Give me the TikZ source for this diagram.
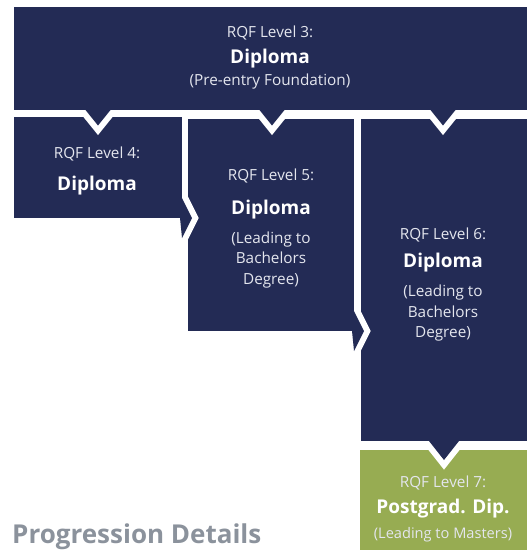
\documentclass[tikz,border=0pt]{standalone}
\usepackage{fontspec}
\setmainfont{Open Sans}
\usetikzlibrary{calc}
\definecolor{rqfnavy}{RGB}{35,43,85}
\definecolor{rqfgreen}{RGB}{151,172,82}
\definecolor{rqfgrey}{RGB}{139,146,156}
\definecolor{rqftext}{RGB}{228,230,238}
\tikzset{
  rqfline/.style={text=rqftext, font=\fontsize{15.3}{17}\selectfont, anchor=base, inner sep=0pt},
  rqftitle/.style={text=white, font=\fontsize{19}{21}\selectfont\bfseries, anchor=base, inner sep=0pt},
  gapline/.style={draw=white, line width=12pt, line join=miter},
}
\begin{document}
\begin{tikzpicture}[x=1pt,y=-1pt]
        \newcommand{\rqftopa}{12.5}
        \newcommand{\rqftopd}{15.5}
        \newcommand{\rqfsidea}{20}
        \newcommand{\rqfsided}{10}
        \newcommand{\rqflowa}{15}
        \newcommand{\rqflowd}{19}
        \useasboundingbox (0,0) rectangle (531,550);
        \fill[rqfgreen] (360,450) rectangle (527,550);
        \fill[rqfnavy] (361,119) rectangle (527,441);
        \fill[rqfnavy] (188,119) rectangle (354,331);
        \fill[rqfnavy] (14,117) rectangle (182,218);
        \fill[rqfnavy] (14,7) rectangle (527,110);
        \begin{scope}
            \clip (0,110) rectangle (531,550);
            \foreach \cx in {98,272,443}
                \draw[gapline] (\cx-\rqftopa,110) -- (\cx,110+\rqftopd) -- (\cx+\rqftopa,110);
        \end{scope}
        \foreach \cx in {98,272,443}
            \fill[rqfnavy] (\cx-\rqftopa,108) -- (\cx-\rqftopa,110) -- (\cx,110+\rqftopd) -- (\cx+\rqftopa,110) -- (\cx+\rqftopa,108) -- cycle;
        \begin{scope}
            \clip (182,0) rectangle (531,550);
            \draw[gapline] (182,218-\rqfsidea) -- (182+\rqfsided,218) -- (182,218+\rqfsidea);
        \end{scope}
        \fill[rqfnavy] (180,218-\rqfsidea) -- (182,218-\rqfsidea) -- (182+\rqfsided,218) -- (182,218+\rqfsidea) -- (180,218) -- cycle;
        \begin{scope}
            \clip (354,0) rectangle (531,550);
            \draw[gapline] (354,331-\rqfsidea) -- (354+\rqfsided,331) -- (354,331+\rqfsidea);
        \end{scope}
        \fill[rqfnavy] (352,331-\rqfsidea) -- (354,331-\rqfsidea) -- (354+\rqfsided,331) -- (354,331+\rqfsidea) -- (352,331) -- cycle;
        \begin{scope}
            \clip (0,441) rectangle (531,550);
            \draw[gapline] (444-\rqflowa,441) -- (444,441+\rqflowd) -- (444+\rqflowa,441);
        \end{scope}
        \fill[rqfnavy] (444-\rqflowa,439) -- (444-\rqflowa,441) -- (444,441+\rqflowd) -- (444+\rqflowa,441) -- (444+\rqflowa,439) -- cycle;
        \node[rqfline] (lvlthreerqf) at (270,37) {RQF Level 3:};
        \node[rqftitle] (lvlthreedip) at (270,63) {Diploma};
        \node[rqfline] (lvlthreenote) at (270,85) {(Pre-entry Foundation)};
        \node[rqfline] (lvlfourrqf) at (97,158) {RQF Level 4:};
        \node[rqftitle] (lvlfourdip) at (97,190) {Diploma};
        \node[rqfline] (lvlfiverqf) at (271,180) {RQF Level 5:};
        \node[rqftitle] (lvlfivedip) at (271,214) {Diploma};
        \node[rqfline] (lvlfivenotea) at (271,243) {(Leading to};
        \node[rqfline] (lvlfivenoteb) at (271,263) {Bachelors};
        \node[rqfline] (lvlfivenotec) at (271,284) {Degree)};
        \node[rqfline] (lvlsixrqf) at (443,239) {RQF Level 6:};
        \node[rqftitle] (lvlsixdip) at (443,267) {Diploma};
        \node[rqfline] (lvlsixnotea) at (443,296) {(Leading to};
        \node[rqfline] (lvlsixnoteb) at (443,317) {Bachelors};
        \node[rqfline] (lvlsixnotec) at (443,337) {Degree)};
        \node[rqfline] (lvlsevenrqf) at (443,487) {RQF Level 7:};
        \node[rqftitle] (lvlsevendip) at (443,513) {Postgrad. Dip.};
        \node[rqfline, font=\fontsize{14.6}{16}\selectfont] (lvlsevennote) at (443,538) {(Leading to Masters)};
        \node[font=\fontsize{26}{28}\selectfont\bfseries, text=rqfgrey, anchor=base west, inner sep=0pt] (progtitle) at (12,543.5) {Progression Details};
\end{tikzpicture}
\end{document}
